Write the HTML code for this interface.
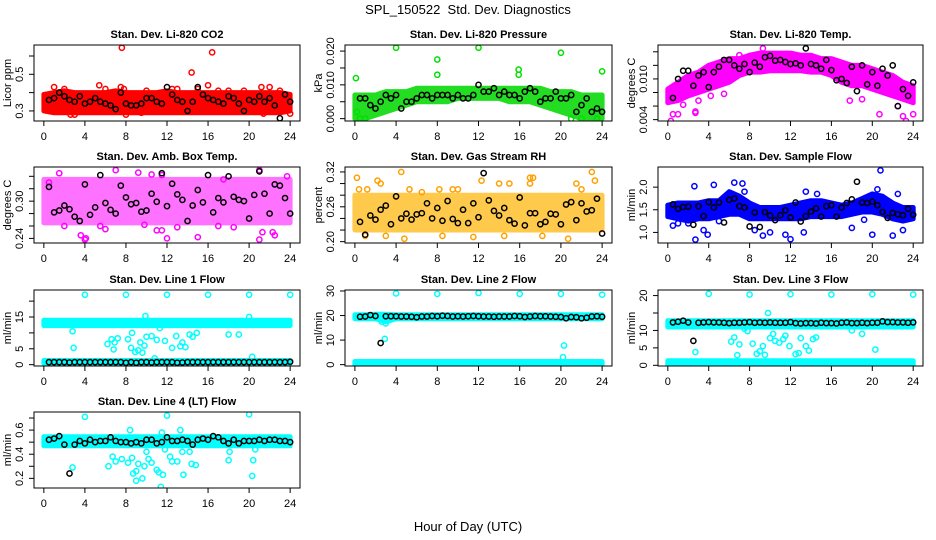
<!DOCTYPE html>
<html><head><meta charset="utf-8">
<style>
html,body{margin:0;padding:0;background:#fff;}
svg{display:block;font-family:"Liberation Sans",Arial,sans-serif;}
</style></head>
<body>
<svg id="fig" width="936" height="540" viewBox="0 0 936 540" xmlns="http://www.w3.org/2000/svg">
<rect x="0" y="0" width="936" height="540" fill="#fff"/>
<text x="468" y="14" font-size="13" text-anchor="middle" style="white-space:pre">SPL_150522  Std. Dev. Diagnostics</text>
<text x="468" y="531" font-size="13" text-anchor="middle">Hour of Day (UTC)</text>
</svg>
<script>
// shared x ticks
const xTicks = [0,4,8,12,16,20,24];
const blackT = [0.5,1,1.5,2,2.5,3,3.5,4, 4.5,5,5.5,6,6.5,7,7.5,8, 8.5,9,9.5,10,10.5,11,11.5,12, 12.5,13,13.5,14,14.5,15,15.5,16, 16.5,17,17.5,18,18.5,19,19.5,20, 20.5,21,21.5,22,22.5,23,23.5,24];
const bandT = [0,1,2,3,4,5,6,7,8,9,10,11,12,13,14,15,16,17,18,19,20,21,22,23,24];

// P1 CO2
const co2Lo = [0.30,0.29,0.29,0.29,0.29,0.29,0.29,0.29,0.29,0.29,0.29,0.29,0.29,0.29,0.29,0.29,0.29,0.29,0.29,0.29,0.29,0.29,0.29,0.29,0.30];
const co2Hi = [0.39,0.40,0.41,0.40,0.40,0.40,0.40,0.41,0.40,0.40,0.40,0.40,0.41,0.40,0.40,0.40,0.40,0.40,0.40,0.40,0.40,0.40,0.40,0.40,0.39];
const co2OutT = [7.6,16.4,14.4,1.0,5.4,7.5,7.8,16.0,21.2,22.0,3.0,21.4,24.0,8.0,2.6,12.5,10.0,15.0,6.0,0.5,4.0,18.0,19.5,11.0,13.0,17.0,9.5,20.5,23.0,2.0];
const co2OutY = [0.645,0.62,0.51,0.43,0.44,0.43,0.42,0.44,0.43,0.43,0.28,0.285,0.285,0.28,0.28,0.42,0.41,0.42,0.42,0.31,0.30,0.41,0.41,0.30,0.42,0.41,0.29,0.30,0.41,0.42];
const co2Black = [0.36,0.37,0.40,0.38,0.36,0.35,0.38,0.34, 0.35,0.37,0.35,0.34,0.33,0.31,0.40,0.34, 0.33,0.33,0.34,0.37,0.37,0.35,0.34,0.43, 0.39,0.36,0.35,0.30,0.35,0.43,0.39,0.37, 0.36,0.35,0.34,0.38,0.37,0.34,0.30,0.36, 0.35,0.38,0.35,0.37,0.33,0.26,0.39,0.35];
const co2Ticks = [0.3,0.4,0.5,0.6];
const co2Labels = ["0.3","","0.5",""];

// P2 Pressure
const presLo = [0,0,0.001,0.002,0.003,0.004,0.005,0.005,0.005,0.005,0.006,0.006,0.006,0.006,0.006,0.005,0.005,0.005,0.004,0.003,0.002,0.001,0,0,0];
const presHi = [0.007,0.007,0.007,0.008,0.008,0.008,0.009,0.009,0.009,0.009,0.009,0.009,0.009,0.009,0.009,0.009,0.009,0.009,0.009,0.008,0.008,0.008,0.007,0.007,0.007];
const presOutT = [0.1,4,8,8,12,15.9,15.9,20,24,0.2,0.5,1,21,22,23.5];
const presOutY = [0.012,0.021,0.0175,0.013,0.021,0.0145,0.013,0.0195,0.014,0.002,0,0,0,0,0];
const presBlack = [0.006,0.006,0.004,0.003,0.005,0.007,0.006,0.007, 0.003,0.005,0.005,0.006,0.007,0.007,0.006,0.007, 0.007,0.007,0.006,0.007,0.006,0.006,0.007,0.010, 0.008,0.008,0.009,0.007,0.008,0.007,0.007,0.006, 0.008,0.009,0.008,0.005,0.006,0.006,0.008,0.006, 0.006,0.007,0.002,0.004,0.006,0.002,0.003,0.002];
const presTicks = [0,0.005,0.010,0.015,0.020];
const presLabels = ["0.000","","0.010","","0.020"];

// P3 Li-820 Temp
const tempLo = [0.0065,0.0068,0.0075,0.008,0.0085,0.009,0.0095,0.0105,0.011,0.011,0.0112,0.0112,0.0112,0.0112,0.011,0.011,0.0105,0.0095,0.009,0.009,0.0085,0.008,0.0075,0.007,0.0065];
const tempHi = [0.0085,0.0095,0.0105,0.011,0.012,0.0125,0.013,0.013,0.0135,0.0138,0.0138,0.0138,0.0138,0.0135,0.0135,0.013,0.013,0.0125,0.012,0.012,0.0115,0.011,0.0105,0.0095,0.009];
const tempOutT = [0.3,0.5,1,2.7,2.7,20.7,23,23.3,24,17.8,19,4.2,5.5,22.5,9.3,7,0.2,1.5,3];
const tempOutY = [0.0038,0.0048,0.0048,0.005,0.0052,0.0048,0.0045,0.0038,0.0048,0.0068,0.007,0.0075,0.0078,0.006,0.0145,0.0135,0.0075,0.0062,0.0068];
const tempBlack = [0.0072,0.0100,0.0112,0.0112,0.0090,0.0105,0.0110,0.0088, 0.0110,0.0118,0.0128,0.0128,0.0120,0.0115,0.0122,0.0110, 0.0124,0.0118,0.0132,0.0134,0.0127,0.0128,0.0125,0.0122, 0.0123,0.0120,0.0145,0.0122,0.0120,0.0115,0.0128,0.0113, 0.0098,0.0100,0.0094,0.0118,0.0082,0.0120,0.0092,0.0110, 0.0090,0.0115,0.0105,0.0120,0.0060,0.0085,0.0075,0.0095];
const tempTicks = [0.004,0.006,0.008,0.010,0.012,0.014];
const tempLabels = ["0.004","","","0.010","",""];

// P4 Amb Box Temp
const ambLo = [0.265,0.265,0.265,0.265,0.265,0.265,0.265,0.265,0.265,0.265,0.265,0.265,0.265,0.265,0.265,0.265,0.265,0.265,0.265,0.265,0.265,0.265,0.265,0.265,0.265];
const ambHi = [0.335,0.335,0.335,0.335,0.335,0.335,0.335,0.335,0.335,0.335,0.335,0.335,0.335,0.335,0.335,0.335,0.335,0.335,0.335,0.335,0.335,0.335,0.335,0.335,0.335];
const ambOutT = [3.6,4,4.1,12,15,21,22.5,22.3,21.3,0.5,1.5,9.2,10.5,11.5,21,23.7,5.5,6,17,18.5,11,11.5,13,9.8,2,7,17.5];
const ambOutY = [0.245,0.238,0.24,0.24,0.242,0.238,0.245,0.25,0.25,0.33,0.345,0.346,0.343,0.342,0.35,0.34,0.26,0.255,0.26,0.258,0.253,0.253,0.258,0.262,0.26,0.35,0.335];
const ambBlack = [0.323,0.282,0.285,0.293,0.287,0.275,0.268,0.327, 0.278,0.290,0.342,0.297,0.286,0.280,0.325,0.306, 0.295,0.297,0.283,0.285,0.312,0.299,0.345,0.292, 0.328,0.311,0.302,0.268,0.293,0.318,0.298,0.342, 0.282,0.305,0.298,0.340,0.307,0.302,0.300,0.272, 0.310,0.348,0.312,0.280,0.327,0.325,0.305,0.280];
const ambTicks = [0.24,0.26,0.28,0.30,0.32,0.34];
const ambLabels = ["0.24","","","0.30","",""];

// P5 Gas Stream RH
const rhLo = [0.22,0.22,0.22,0.22,0.22,0.22,0.22,0.22,0.22,0.22,0.22,0.22,0.22,0.22,0.22,0.22,0.22,0.22,0.22,0.22,0.22,0.22,0.22,0.22,0.22];
const rhHi = [0.28,0.28,0.28,0.28,0.28,0.28,0.28,0.28,0.28,0.28,0.28,0.28,0.28,0.28,0.28,0.28,0.28,0.28,0.28,0.28,0.28,0.28,0.28,0.28,0.28];
const rhOutT = [0.2,0.4,1.2,2.2,4.5,5.3,6.5,8.2,9.5,12.3,14,15,17,17.3,17,20.7,8.5,11.5,4.8,23,23.3,21.5,3,18.2,1,14.5,22,2.5,10];
const rhOutY = [0.31,0.29,0.29,0.305,0.32,0.29,0.285,0.29,0.29,0.305,0.30,0.30,0.31,0.31,0.30,0.205,0.21,0.208,0.205,0.32,0.305,0.30,0.21,0.21,0.21,0.21,0.29,0.30,0.29];
const rhBlack = [0.234,0.212,0.245,0.238,0.255,0.262,0.230,0.278, 0.240,0.248,0.238,0.247,0.249,0.266,0.240,0.258, 0.236,0.270,0.239,0.232,0.255,0.232,0.266,0.242, 0.318,0.271,0.253,0.245,0.258,0.237,0.231,0.276, 0.228,0.249,0.249,0.230,0.234,0.248,0.247,0.230, 0.264,0.268,0.237,0.266,0.252,0.254,0.274,0.214];
const rhTicks = [0.20,0.22,0.24,0.26,0.28,0.30,0.32];
const rhLabels = ["0.20","","","0.26","","","0.32"];

// P6 Sample Flow
const sfLo = [1.35,1.3,1.25,1.3,1.3,1.35,1.4,1.4,1.3,1.3,1.3,1.3,1.3,1.3,1.35,1.35,1.35,1.35,1.4,1.45,1.45,1.4,1.3,1.25,1.3];
const sfHi = [1.6,1.65,1.65,1.65,1.7,1.7,1.9,1.8,1.65,1.55,1.55,1.55,1.6,1.65,1.7,1.7,1.65,1.6,1.65,1.75,1.85,1.8,1.65,1.55,1.55];
const sfOutT = [0.5,1,2,2.6,2.7,3.9,4.5,6.5,7.3,7.5,9.3,10,11.5,12,13.3,13.5,14.6,18,19.2,20,20.8,20.5,22,22.5,23,8.5,5,3.5];
const sfOutY = [1.15,1.2,1.2,2.02,0.84,0.95,2.05,2.1,2.08,1.9,0.93,1.0,0.95,0.85,1.0,1.9,1.85,1.1,1.28,0.95,2.37,1.95,0.93,1.85,1.05,1.05,1.25,1.05];
const sfBlack = [1.62,1.52,1.56,1.57,1.17,1.58,1.36,1.67, 1.55,1.66,1.22,1.72,1.75,1.58,1.55,1.13, 1.44,1.12,1.45,1.37,1.27,1.38,1.49,1.33, 1.66,1.24,1.36,1.46,1.53,1.35,1.58,1.60, 1.35,1.55,1.65,1.73,2.12,1.66,1.65,1.68, 1.60,1.45,1.32,1.43,1.40,1.38,1.52,1.39];
const sfTicks = [1.0,1.5,2.0];
const sfLabels = ["1.0","1.5","2.0"];

// P7 Line 1 Flow
const l1Lo = [12.3,12.3,12.3,12.3,12.3,12.3,12.3,12.3,12.3,12.3,12.3,12.3,12.3,12.3,12.3,12.3,12.3,12.3,12.3,12.3,12.3,12.3,12.3,12.3,12.3];
const l1Hi = [14,14,14,14,14,14,14,14,14,14,14,14,14,14,14,14,14,14,14,14,14,14,14,14,14];
const l1bLo = [0.4,0.4,0.4,0.4,0.4,0.4,0.4,0.4,0.4,0.4,0.4,0.4,0.4,0.4,0.4,0.4,0.4,0.4,0.4,0.4,0.4,0.4,0.4,0.4,0.4];
const l1bHi = [1.3,1.3,1.3,1.3,1.3,1.3,1.3,1.3,1.3,1.3,1.3,1.3,1.3,1.3,1.3,1.3,1.3,1.3,1.3,1.3,1.3,1.3,1.3,1.3,1.3];
const l1OutT = [4,8,12,16,20,24,2.8,2.9,6.2,6.6,6.9,7.2,6.8,8.2,8.6,8.5,8.9,9.2,9.4,9.6,9.8,10,10.5,10.8,11,11.3,11.8,12.5,12.9,13.3,13.5,13.8,14.2,14.5,14.9,18,19,20.3,20,9.9];
const l1OutY = [22,22,22,22,22,22,10.5,5.3,6.5,8,7,8.3,4.8,8,10,5.3,4,4.5,7,3.8,6,8.8,9,2,7.8,11.5,7.5,5.3,9,5.8,7,5.5,9.5,8.8,10,9.5,9.5,2.5,15,15.3];
const l1Black = [0.8,0.8,0.8,0.8,0.7,0.8,0.8,0.8, 0.8,0.8,0.8,0.8,0.8,0.8,0.8,0.6, 0.8,0.6,0.8,0.8,0.7,0.8,0.8,0.8, 0.8,0.6,0.7,0.8,0.8,0.8,0.8,0.8, 0.8,0.8,0.8,0.8,0.8,0.8,0.8,0.8, 0.8,0.8,0.8,0.8,0.8,0.8,0.8,0.9];
const l1Ticks = [0,5,10,15,20];
const l1Labels = ["0","5","","15",""];

// P8 Line 2 Flow
const l2Lo = [18.7,18.7,18.7,17.5,18.7,18.7,18.7,18.7,18.7,18.7,18.7,18.7,18.7,18.7,18.7,18.7,18.7,18.7,18.7,18.7,18.7,18.7,18.7,18.7,18.7];
const l2Hi = [20.3,20.3,20.5,20.5,20.3,20.3,20.3,20.3,20.3,20.3,20.3,20.3,20.3,20.3,20.3,20.3,20.3,20.3,20.3,20.3,20.3,20.3,20.3,20.3,20.3];
const l2bLo = [-0.2,-0.2,-0.2,-0.2,-0.2,-0.2,-0.2,-0.2,-0.2,-0.2,-0.2,-0.2,-0.2,-0.2,-0.2,-0.2,-0.2,-0.2,-0.2,-0.2,-0.2,-0.2,-0.2,-0.2,-0.2];
const l2bHi = [1.3,1.3,1.3,1.3,1.3,1.3,1.3,1.3,1.3,1.3,1.3,1.3,1.3,1.3,1.3,1.3,1.3,1.3,1.3,1.3,1.3,1.3,1.3,1.3,1.3];
const l2OutT = [4,8,12,16,20,24,2.9,3.0,2.6,20.3,20.2];
const l2OutY = [29,28.8,29.2,28.8,28.8,28.5,10.5,16.8,17.5,7.8,3];
const l2Black = [19.5,19.6,20.2,19.8,8.8,19.7,19.7,19.7, 19.6,19.6,19.5,19.3,19.6,19.6,19.8,19.7, 19.9,19.8,19.6,19.7,19.6,19.7,19.8,19.7, 19.6,19.6,19.5,19.6,19.6,19.6,19.8,19.7, 19.4,19.6,19.8,19.7,19.7,19.6,19.5,19.4, 18.9,19.4,19.3,18.9,19.1,19.6,19.7,19.5];
const l2Ticks = [0,10,20,30];
const l2Labels = ["0","10","20","30"];

// P9 Line 3 Flow
const l3Lo = [11,11,11,11,11,11,11,11,11,11,11,11,11,11,11,11,11,11,11,11,11,11,11,11,11];
const l3Hi = [12.8,12.8,12.8,12.8,12.8,12.8,12.8,12.8,12.8,12.8,12.8,12.8,12.8,12.8,12.8,12.8,12.8,12.8,12.8,12.8,12.8,12.8,12.8,12.8,12.8];
const l3bLo = [0,0,0,0,0,0,0,0,0,0,0,0,0,0,0,0,0,0,0,0,0,0,0,0,0];
const l3bHi = [1.3,1.3,1.3,1.3,1.3,1.3,1.3,1.3,1.3,1.3,1.3,1.3,1.3,1.3,1.3,1.3,1.3,1.3,1.3,1.3,1.3,1.3,1.3,1.3,1.3];
const l3OutT = [4,8,12,16,20,24,2.7,6.2,6.5,6.8,7,7.8,8.3,8.7,9,9.3,9.5,9.8,10,10.3,10.5,10.9,11.3,11.5,11.9,12.5,12.8,13,13.5,13.8,14.2,14.5,19,20.3,18,7.5];
const l3OutY = [20.5,20.3,20.4,20.3,20.4,20.3,3.8,6.8,8,2.9,6,9.8,6.2,3.3,4,5.5,3,15,7.8,9,7,6.5,7.5,8.5,5.5,3.2,3.5,7.8,5.5,4.2,7.5,8,9,4.5,10,10.5];
const l3Black = [12.3,12.5,12.8,12.3,7.0,12.2,12.3,12.4, 12.3,12.3,12.2,12.1,12.2,12.2,12.3,12.4, 12.2,12.3,12.2,12.3,12.2,12.2,12.2,12.4, 12.1,12.0,12.1,12.1,12.0,12.2,12.1,12.1, 12.0,12.2,12.3,12.1,12.1,12.2,12.1,12.2, 12.2,12.6,12.4,12.4,12.3,12.3,12.2,12.3];
const l3Ticks = [0,5,10,15,20];
const l3Labels = ["0","5","10","","20"];

// P10 Line 4 (LT) Flow
const l4Lo = [0.47,0.47,0.47,0.47,0.47,0.47,0.47,0.47,0.47,0.47,0.47,0.47,0.47,0.47,0.47,0.47,0.47,0.47,0.47,0.47,0.47,0.47,0.47,0.47,0.47];
const l4Hi = [0.545,0.545,0.545,0.545,0.545,0.545,0.545,0.545,0.545,0.545,0.545,0.545,0.545,0.545,0.545,0.545,0.545,0.545,0.545,0.545,0.545,0.545,0.545,0.545,0.545];
const l4OutT = [2.8,4,6.3,6.7,7,7.6,8.2,8.6,8.7,9,9,9.2,9.6,9.8,10,10.2,10.5,11,11.2,11.4,11.6,11.8,12,12.3,12.5,13,13.3,13.5,13.6,14.2,14.4,14.8,18,18.1,20,20.3,20.4,20.6,8.4,11.5];
const l4OutY = [0.29,0.71,0.30,0.38,0.34,0.36,0.33,0.37,0.24,0.26,0.18,0.32,0.2,0.3,0.42,0.36,0.33,0.27,0.25,0.13,0.23,0.44,0.72,0.38,0.34,0.34,0.6,0.42,0.23,0.42,0.32,0.31,0.35,0.42,0.73,0.22,0.35,0.44,0.6,0.58];
const l4Black = [0.52,0.53,0.55,0.48,0.24,0.48,0.51,0.49, 0.52,0.50,0.51,0.51,0.54,0.51,0.50,0.50, 0.49,0.50,0.49,0.52,0.52,0.49,0.50,0.54, 0.51,0.51,0.52,0.51,0.48,0.52,0.53,0.52, 0.55,0.54,0.51,0.49,0.52,0.49,0.51,0.51, 0.51,0.52,0.51,0.52,0.52,0.51,0.51,0.50];
const l4Ticks = [0.2,0.3,0.4,0.5,0.6,0.7];
const l4Labels = ["0.2","","0.4","","0.6",""];

const NS = "http://www.w3.org/2000/svg";
const svg = document.getElementById('fig');
function mk(tag, attrs, parent){
  const e = document.createElementNS(NS, tag);
  for (const k in attrs) e.setAttribute(k, attrs[k]);
  (parent||svg).appendChild(e);
  return e;
}

const panels = [
 {key:'co2', title:'Stan. Dev. Li-820 CO2', ylab:'Licor ppm', col:0,row:0, ymin:0.245,ymax:0.66, bands:[[co2Lo,co2Hi]], bandColor:'#ff0000', op:1, outT:co2OutT,outY:co2OutY, color:'#ff0000', black:co2Black, ticks:co2Ticks, labels:co2Labels},
 {key:'pressure', title:'Stan. Dev. Li-820 Pressure', ylab:'kPa', col:1,row:0, ymin:-0.0007,ymax:0.0218, bands:[[presLo,presHi]], bandColor:'#22dd22', op:1, outT:presOutT,outY:presOutY, color:'#00e000', black:presBlack, ticks:presTicks, labels:presLabels},
 {key:'li820-temp', title:'Stan. Dev. Li-820 Temp.', ylab:'degrees C', col:2,row:0, ymin:0.0038,ymax:0.015, bands:[[tempLo,tempHi]], bandColor:'#ff00ff', op:1, outT:tempOutT,outY:tempOutY, color:'#ff00ff', black:tempBlack, ticks:tempTicks, labels:tempLabels},
 {key:'amb-box-temp', title:'Stan. Dev. Amb. Box Temp.', ylab:'degrees C', col:0,row:1, ymin:0.2326,ymax:0.355, bands:[[ambLo,ambHi]], bandColor:'#ff00ff', op:0.55, outT:ambOutT,outY:ambOutY, color:'#ff00ff', black:ambBlack, ticks:ambTicks, labels:ambLabels},
 {key:'gas-stream-rh', title:'Stan. Dev. Gas Stream RH', ylab:'percent', col:1,row:1, ymin:0.1977,ymax:0.3285, bands:[[rhLo,rhHi]], bandColor:'#ffb400', op:0.7, outT:rhOutT,outY:rhOutY, color:'#ffa000', black:rhBlack, ticks:rhTicks, labels:rhLabels},
 {key:'sample-flow', title:'Stan. Dev. Sample Flow', ylab:'ml/min', col:2,row:1, ymin:0.766,ymax:2.445, bands:[[sfLo,sfHi]], bandColor:'#0000ff', op:1, outT:sfOutT,outY:sfOutY, color:'#0000ff', black:sfBlack, ticks:sfTicks, labels:sfLabels},
 {key:'line1-flow', title:'Stan. Dev. Line 1 Flow', ylab:'ml/min', col:0,row:2, ymin:-0.42,ymax:23.5, bands:[[l1Lo,l1Hi],[l1bLo,l1bHi]], bandColor:'#00ffff', op:1, outT:l1OutT,outY:l1OutY, color:'#00ffff', black:l1Black, ticks:l1Ticks, labels:l1Labels},
 {key:'line2-flow', title:'Stan. Dev. Line 2 Flow', ylab:'ml/min', col:1,row:2, ymin:-0.55,ymax:30.4, bands:[[l2Lo,l2Hi],[l2bLo,l2bHi]], bandColor:'#00ffff', op:1, outT:l2OutT,outY:l2OutY, color:'#00ffff', black:l2Black, ticks:l2Ticks, labels:l2Labels},
 {key:'line3-flow', title:'Stan. Dev. Line 3 Flow', ylab:'ml/min', col:2,row:2, ymin:-0.2,ymax:21.6, bands:[[l3Lo,l3Hi],[l3bLo,l3bHi]], bandColor:'#00ffff', op:1, outT:l3OutT,outY:l3OutY, color:'#00ffff', black:l3Black, ticks:l3Ticks, labels:l3Labels},
 {key:'line4-flow', title:'Stan. Dev. Line 4 (LT) Flow', ylab:'ml/min', col:0,row:3, ymin:0.12,ymax:0.75, bands:[[l4Lo,l4Hi]], bandColor:'#00ffff', op:1, outT:l4OutT,outY:l4OutY, color:'#00ffff', black:l4Black, ticks:l4Ticks, labels:l4Labels}
];
const colLeft = [34,345,658];
const colW = [266,267,265];
const rowTop = [45,167,290,412];
const rowH = 76;

panels.forEach(p => {
  const L = colLeft[p.col], W = colW[p.col], T = rowTop[p.row], B = T + rowH;
  const xs = t => L + (t + 0.96) / 25.92 * W;
  const ys = v => B - (v - p.ymin) / (p.ymax - p.ymin) * rowH;
  const g = mk('g', {});
  
  
  const cp = mk('clipPath', {id:'clip-' + p.key}, g);
  mk('rect', {x:L, y:T, width:W, height:rowH}, cp);
  const plot = mk('g', {'clip-path':'url(#clip-' + p.key + ')'}, g);
  p.bands.forEach((bd, bi) => {
    const lo = bd[0], hi = bd[1];
    let pts = [];
    for (let i = 0; i < bandT.length; i++) pts.push(xs(bandT[i]).toFixed(1) + ',' + ys(hi[i]).toFixed(1));
    for (let i = bandT.length - 1; i >= 0; i--) pts.push(xs(bandT[i]).toFixed(1) + ',' + ys(lo[i]).toFixed(1));
    const poly = mk('polygon', {points: pts.join(' '), fill: p.bandColor, stroke: p.bandColor, 'stroke-width': 5, 'stroke-linejoin':'round', opacity: p.op}, plot);
    
    
  });
  for (let i = 0; i < p.outT.length; i++) {
    const c = mk('circle', {cx: xs(p.outT[i]), cy: ys(p.outY[i]), r: 2.6, fill: 'none', stroke: p.color, 'stroke-width': 1.5}, plot);
    
    
  }
  for (let i = 0; i < p.black.length && i < blackT.length; i++) {
    const c = mk('circle', {cx: xs(blackT[i]), cy: ys(p.black[i]), r: 2.6, fill: 'none', stroke: '#000', 'stroke-width': 1.5}, plot);
    
    
  }
  const box = mk('rect', {x:L, y:T, width:W, height:rowH, fill:'none', stroke:'#000', 'stroke-width':1}, g);
  
  
  xTicks.forEach(t => {
    mk('line', {x1: xs(t), x2: xs(t), y1: B, y2: B + 5, stroke:'#000', 'stroke-width':1}, g);
    const tx = mk('text', {x: xs(t), y: B + 19, 'font-size': 11, 'text-anchor':'middle'}, g);
    tx.textContent = t;
    
    
  });
  p.ticks.forEach((v, i) => {
    mk('line', {x1: L - 5, x2: L, y1: ys(v), y2: ys(v), stroke:'#000', 'stroke-width':1}, g);
    if (p.labels[i]) {
      const tx = mk('text', {x: L - 11, y: ys(v), 'font-size': 11, 'text-anchor':'middle', transform:'rotate(-90 ' + (L - 11) + ' ' + ys(v) + ')'}, g);
      tx.textContent = p.labels[i];
      
      
    }
  });
  const yl = mk('text', {x: L - 23, y: T + rowH / 2, 'font-size': 11, 'text-anchor':'middle', transform:'rotate(-90 ' + (L - 23) + ' ' + (T + rowH / 2) + ')'}, g);
  yl.textContent = p.ylab;
  
  
  const tt = mk('text', {x: L + W / 2, y: T - 7, 'font-size': 11, 'font-weight':'bold', 'text-anchor':'middle'}, g);
  tt.textContent = p.title;
  
  
});
</script>
</body></html>
